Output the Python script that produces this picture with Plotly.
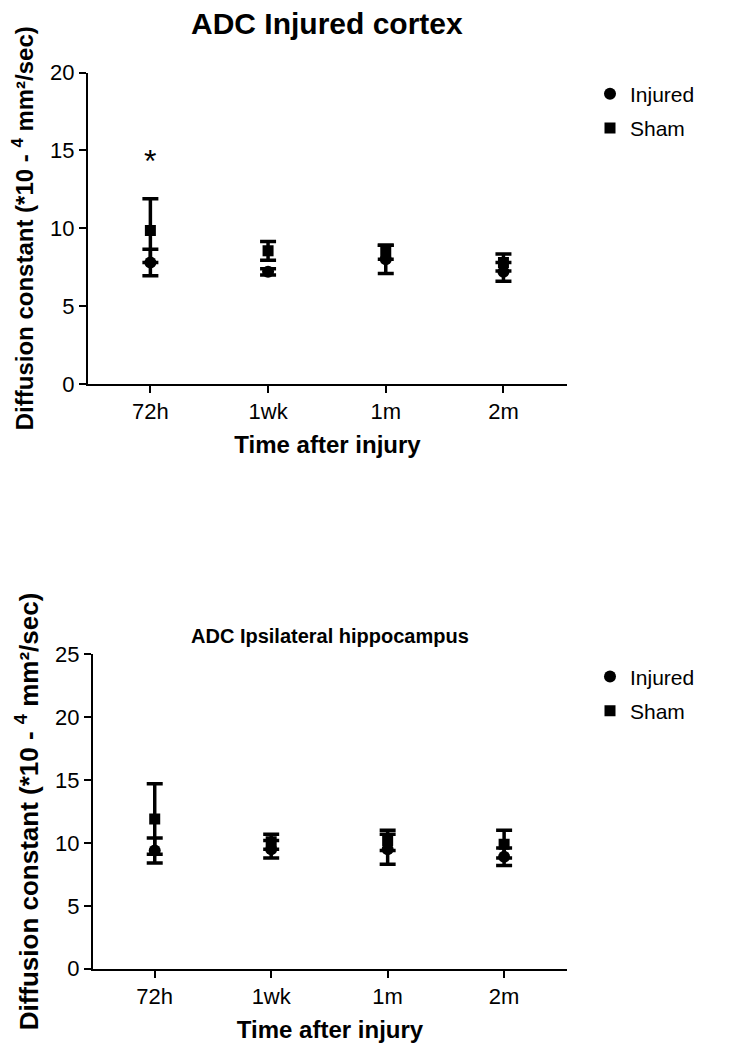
import plotly.graph_objects as go

W, H = 738, 1050

times = ["72h", "1wk", "1m", "2m"]
xpos = [0, 1, 2, 3]

# ADC injured cortex (mean, SD), *10^-4 mm²/sec
cortex_injured = [7.8, 7.2, 8.0, 7.2]
cortex_injured_sd = [0.85, 0.2, 0.9, 0.6]
cortex_sham = [9.85, 8.55, 8.45, 7.8]
cortex_sham_sd = [2.05, 0.6, 0.45, 0.55]

# ADC ipsilateral hippocampus
hippo_injured = [9.4, 9.5, 9.5, 8.9]
hippo_injured_sd = [1.0, 0.7, 1.2, 0.7]
hippo_sham = [11.9, 10.1, 10.2, 9.9]
hippo_sham_sd = [2.8, 0.6, 0.8, 1.1]

FONT = "Liberation Sans, Arial, sans-serif"
YTITLE = "<b>Diffusion constant (*10 - <sup>4</sup> mm²/sec)</b>"


def px_x(x):
    return x / W


def px_y(y):
    return 1 - y / H


def add_panel(fig, xa, ya, legend, inj, inj_sd, sham, sham_sd):
    fig.add_trace(go.Scatter(
        x=xpos, y=inj, name="Injured", mode="markers", xaxis=xa, yaxis=ya,
        legend=legend, legendgroup=legend + "inj",
        marker=dict(symbol="circle", size=12, color="black"),
        error_y=dict(type="data", array=inj_sd, color="black", thickness=3.5, width=8),
    ))
    fig.add_trace(go.Scatter(
        x=xpos, y=sham, name="Sham", mode="markers", xaxis=xa, yaxis=ya,
        legend=legend, legendgroup=legend + "sham",
        marker=dict(symbol="square", size=11, color="black"),
        error_y=dict(type="data", array=sham_sd, color="black", thickness=3.5, width=8),
    ))


fig = go.Figure()
add_panel(fig, "x", "y", "legend", cortex_injured, cortex_injured_sd, cortex_sham, cortex_sham_sd)
add_panel(fig, "x2", "y2", "legend2", hippo_injured, hippo_injured_sd, hippo_sham, hippo_sham_sd)

xaxis_common = dict(
    range=[-0.53, 3.54], tickvals=xpos, ticktext=times,
    showline=True, linecolor="black", linewidth=2, ticks="outside",
    ticklen=7, tickwidth=2, tickcolor="black", showgrid=False, zeroline=False,
    tickfont=dict(size=22, color="black"),
    title=dict(text="<b>Time after injury</b>", font=dict(size=24, color="black"), standoff=13),
)
yaxis_common = dict(
    showline=True, linecolor="black", linewidth=2, ticks="outside",
    ticklen=7, tickwidth=2, tickcolor="black", showgrid=False, zeroline=False,
    tickfont=dict(size=22, color="black"),
)

legend_common = dict(
    font=dict(size=21, color="black"), bgcolor="rgba(0,0,0,0)",
    xanchor="left", yanchor="top", itemwidth=30, tracegroupgap=4,
)

fig.update_layout(
    width=W, height=H,
    margin=dict(l=0, r=0, t=0, b=0),
    paper_bgcolor="white", plot_bgcolor="white",
    font=dict(family=FONT, color="black"),
    showlegend=True,
    xaxis=dict(domain=[px_x(88), px_x(567)], anchor="y", **xaxis_common),
    yaxis=dict(domain=[px_y(381), px_y(62)], anchor="x", range=[0, 20],
               tickvals=[0, 5, 10, 15, 20],
               title=dict(text=YTITLE, font=dict(size=24, color="black"), standoff=10),
               **yaxis_common),
    xaxis2=dict(domain=[px_x(93), px_x(567)], anchor="y2", **xaxis_common),
    yaxis2=dict(domain=[px_y(980), px_y(658)], anchor="x2", range=[0, 25],
                tickvals=[0, 5, 10, 15, 20, 25],
                title=dict(text=YTITLE, font=dict(size=26, color="black"), standoff=9),
                **yaxis_common),
    legend=dict(x=px_x(590), y=px_y(63), **legend_common),
    legend2=dict(x=px_x(590), y=px_y(660), **legend_common),
    annotations=[
        dict(text="<b>ADC Injured cortex</b>", x=px_x(327), y=px_y(12),
             xref="paper", yref="paper", yanchor="middle", showarrow=False,
             font=dict(size=30, color="black")),
        dict(text="<b>ADC Ipsilateral hippocampus</b>", x=px_x(330), y=px_y(639),
             xref="paper", yref="paper", yanchor="middle", showarrow=False,
             font=dict(size=20, color="black")),
        dict(text="*", x=0, y=14.3, xref="x", yref="y", showarrow=False,
             font=dict(size=32, color="black")),
    ],
)

fig.write_html(
    "out.html",
    config={"displayModeBar": False},
    post_script="document.body.style.margin='0';document.body.style.overflow='hidden';",
)
